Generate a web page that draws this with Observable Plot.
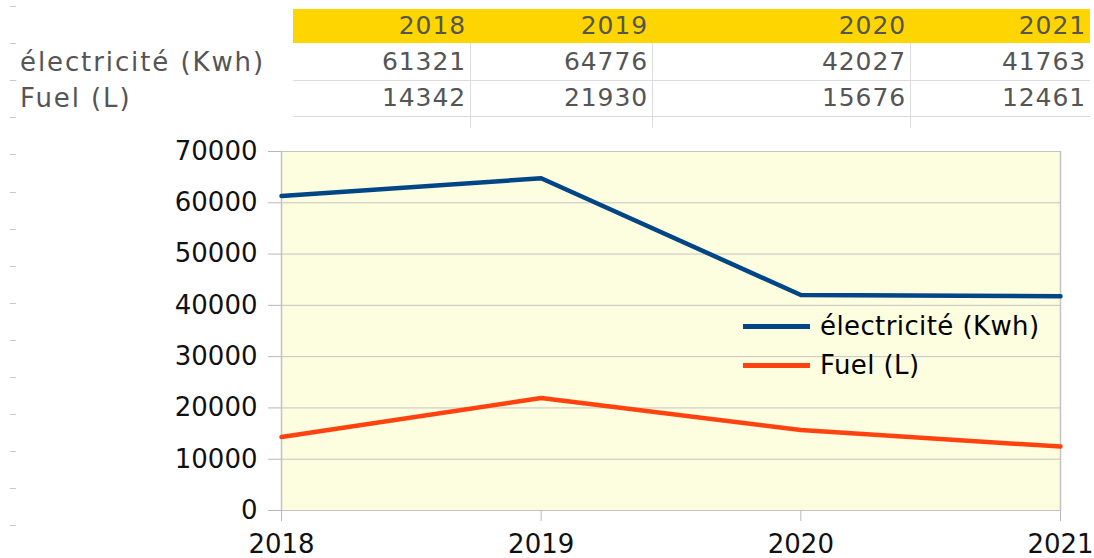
<!DOCTYPE html>
<html>
<head>
<meta charset="utf-8">
<script src="https://cdn.jsdelivr.net/npm/d3@7"></script>
<script src="https://cdn.jsdelivr.net/npm/@observablehq/plot@0.6"></script>
<style>
  html, body { margin: 0; padding: 0; background: #fff; }
  #page { position: relative; width: 1094px; height: 558px; overflow: hidden; font-family: "DejaVu Sans", sans-serif; }
  .abs { position: absolute; }
  .cell { position: absolute; box-sizing: border-box; text-align: right; padding-right: 4px; color: #555; font-size: 25px; letter-spacing: 0.9px; line-height: 34px; white-space: nowrap; }
  .rowlabel { position: absolute; left: 20px; color: #555; font-size: 26px; letter-spacing: 1.9px; line-height: 34px; white-space: nowrap; }
  .dash { position: absolute; left: 10px; width: 6px; height: 1px; background: #c8c8c8; }
  .hline { position: absolute; height: 1px; background: #dcdcdc; }
  .vline { position: absolute; width: 1px; background: #dcdcdc; }
  #chart { position: absolute; left: 0; top: 130px; }
  .legend-item { position: absolute; left: 743px; display: flex; align-items: center; font-size: 26px; color: #000; letter-spacing: 0.4px; white-space: nowrap; }
  .swatch { width: 67px; height: 5px; margin-right: 10px; }
</style>
</head>
<body>
<div id="page"></div>
<script>
// ---- data ----
const years = [2018, 2019, 2020, 2021];
const seriesNames = ["électricité (Kwh)", "Fuel (L)"];
const electricite = [61321, 64776, 42027, 41763];
const fuel = [14342, 21930, 15676, 12461];
const yTicks = [0, 10000, 20000, 30000, 40000, 50000, 60000, 70000];
const seriesColors = ["#004586", "#ff420e"];

// ---- layout constants ----
const page = document.getElementById("page");
const colEdges = [293, 470, 652, 910, 1090];
const rowTops = [9, 45, 81];

function el(cls, style, text) {
  const d = document.createElement("div");
  d.className = cls;
  Object.assign(d.style, style);
  if (text !== undefined) d.textContent = text;
  page.appendChild(d);
  return d;
}

// spreadsheet row markers on the left
for (let i = 0; i < 15; i++) el("dash", {top: (6 + i * 37.1) + "px"});

// yellow header row
el("abs", {left: colEdges[0] + "px", top: "9px", width: (colEdges[4] - colEdges[0]) + "px", height: "34px", background: "#ffd500"});
years.forEach((y, i) => {
  el("cell", {left: colEdges[i] + "px", top: rowTops[0] + "px", width: (colEdges[i + 1] - colEdges[i]) + "px"}, String(y));
});

// grid lines of the table
el("hline", {left: colEdges[0] + "px", top: "80px", width: (colEdges[4] - colEdges[0]) + "px"});
el("hline", {left: colEdges[0] + "px", top: "116px", width: (colEdges[4] - colEdges[0]) + "px"});
[1, 2, 3].forEach(i => el("vline", {left: colEdges[i] + "px", top: "43px", height: "85px"}));

// value rows
[electricite, fuel].forEach((vals, r) => {
  el("rowlabel", {top: (rowTops[r + 1]) + "px"}, seriesNames[r]);
  vals.forEach((v, i) => {
    el("cell", {left: colEdges[i] + "px", top: rowTops[r + 1] + "px", width: (colEdges[i + 1] - colEdges[i]) + "px"}, String(v));
  });
});

// ---- chart ----
const data = [];
years.forEach((y, i) => {
  data.push({year: y, value: electricite[i], series: seriesNames[0]});
  data.push({year: y, value: fuel[i], series: seriesNames[1]});
});

const chart = Plot.plot({
  width: 1094,
  height: 428,
  marginTop: 21,
  marginBottom: 48,
  marginLeft: 281,
  marginRight: 34,
  style: {fontFamily: "DejaVu Sans, sans-serif", fontSize: "26px", color: "#000", background: "transparent", overflow: "visible"},
  x: {domain: [2018, 2021], ticks: years, tickFormat: d => String(d), label: null},
  y: {domain: [0, 70000], ticks: yTicks, tickFormat: d => String(d), label: null},
  color: {domain: seriesNames, range: seriesColors},
  marks: [
    Plot.frame({fill: "#fdfddf", stroke: null}),
    Plot.gridY(yTicks, {stroke: "#c4c4c4", strokeOpacity: 1, strokeWidth: 1}),
    Plot.ruleX([2018, 2021], {stroke: "#c4c4c4", strokeWidth: 1.5}),
    Plot.axisY({ticks: yTicks, tickFormat: d => String(d), tickSize: 13, tickPadding: 11, stroke: "#b8b8b8", fill: "#111", fontSize: 26, label: null}),
    Plot.axisX({ticks: years, tickFormat: d => String(d), tickSize: 11, tickPadding: 13, stroke: "#b8b8b8", fill: "#111", fontSize: 26, label: null}),
    Plot.line(data, {x: "year", y: "value", z: "series", stroke: "series", strokeWidth: 4.5, strokeLinejoin: "round"})
  ]
});
chart.id = "chart";
page.appendChild(chart);

// legend inside the plot area
seriesNames.forEach((name, i) => {
  const item = el("legend-item", {top: (311 + i * 39) + "px"});
  const sw = document.createElement("div");
  sw.className = "swatch";
  sw.style.background = seriesColors[i];
  item.appendChild(sw);
  const t = document.createElement("span");
  t.textContent = name;
  item.appendChild(t);
});
</script>
</body>
</html>
